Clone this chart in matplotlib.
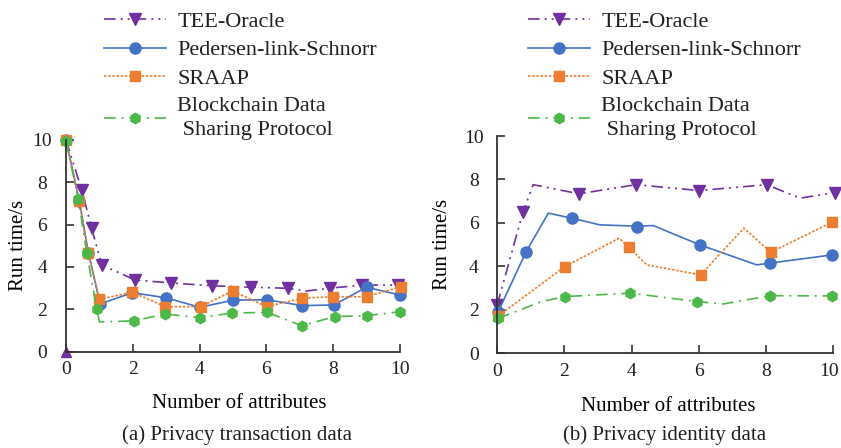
import matplotlib
matplotlib.use("Agg")
from matplotlib import pyplot as plt
from matplotlib.lines import Line2D
from matplotlib import transforms

plt.rcParams['font.family'] = ['Liberation Serif', 'DejaVu Serif']
plt.rcParams['text.color'] = '#231f20'

labels = ['TEE-Oracle', 'Pedersen-link-Schnorr', 'SRAAP',
          'Blockchain Data\n Sharing Protocol']

# (a) privacy transaction data: line vertices and marker points
a_tee_x = [0, 0.47, 0.77, 1.07, 2.07, 3.14, 4.36, 5.54, 6.64, 7.2, 7.9, 8.85, 9.95]
a_tee_y = [10, 7.64, 5.82, 4.09, 3.38, 3.24, 3.11, 3.04, 2.99, 2.86, 2.99, 3.14, 3.14]
a_tee_mx = [0.47, 0.77, 1.07, 2.07, 3.14, 4.36, 5.54, 6.64, 7.9, 8.85, 9.95]
a_tee_my = [7.64, 5.82, 4.09, 3.38, 3.24, 3.11, 3.04, 2.99, 2.99, 3.14, 3.14]

a_ped_x = [0, 0.4, 0.67, 1.02, 1.99, 2.99, 4.01, 5.01, 6.01, 7.07, 8.02, 9.0, 10.0]
a_ped_y = [10, 7.1, 4.65, 2.25, 2.78, 2.54, 2.09, 2.43, 2.45, 2.17, 2.2, 3.04, 2.67]

a_sra_x = [0, 0.4, 0.67, 1.0, 1.99, 2.97, 4.03, 4.99, 6.01, 7.07, 8.0, 9.0, 10.02]
a_sra_y = [10, 7.1, 4.65, 2.47, 2.8, 2.12, 2.12, 2.86, 2.12, 2.52, 2.59, 2.59, 3.06]

a_bds_x = [0, 0.37, 0.62, 0.92, 1.0, 2.04, 2.96, 4.01, 4.97, 6.03, 7.06, 8.05, 9.0, 10.0]
a_bds_y = [9.95, 7.2, 4.67, 2.0, 1.4, 1.45, 1.77, 1.6, 1.82, 1.85, 1.22, 1.65, 1.69, 1.88]
a_bds_mx = [0, 0.37, 0.62, 0.92, 2.04, 2.96, 4.01, 4.97, 6.03, 7.06, 8.05, 9.0, 10.0]
a_bds_my = [9.95, 7.2, 4.67, 2.0, 1.45, 1.77, 1.6, 1.82, 1.85, 1.22, 1.65, 1.69, 1.88]

# (b) privacy identity data
b_tee_x = [0, 0.76, 1.07, 2.43, 4.13, 6.01, 8.02, 9.01, 10.05]
b_tee_y = [2.23, 6.48, 7.76, 7.34, 7.76, 7.49, 7.76, 7.14, 7.4]
b_tee_mx = [0, 0.76, 2.43, 4.13, 6.01, 8.02, 10.05]
b_tee_my = [2.23, 6.48, 7.34, 7.76, 7.49, 7.76, 7.4]

b_ped_x = [0.03, 0.85, 1.52, 2.21, 3.06, 4.17, 4.64, 6.03, 7.72, 8.12, 9.97]
b_ped_y = [1.92, 4.65, 6.45, 6.22, 5.91, 5.85, 5.88, 4.99, 4.07, 4.15, 4.53]
b_ped_mx = [0.03, 0.85, 2.21, 4.17, 6.03, 8.12, 9.97]
b_ped_my = [1.92, 4.65, 6.22, 5.83, 4.99, 4.15, 4.53]

b_sra_x = [0.03, 2.01, 3.63, 3.92, 4.45, 6.05, 7.34, 8.14, 9.97]
b_sra_y = [1.72, 3.99, 5.3, 4.88, 4.07, 3.61, 5.76, 4.65, 6.04]
b_sra_mx = [0.03, 2.01, 3.92, 6.05, 8.14, 9.97]
b_sra_my = [1.72, 3.99, 4.88, 3.61, 4.65, 6.04]

b_bds_x = [0.03, 1.32, 2.01, 3.96, 5.95, 6.73, 8.12, 9.97]
b_bds_y = [1.61, 2.38, 2.61, 2.77, 2.38, 2.27, 2.65, 2.64]
b_bds_mx = [0.03, 2.01, 3.96, 5.95, 8.12, 9.97]
b_bds_my = [1.61, 2.61, 2.77, 2.38, 2.65, 2.64]

xticks = [0, 2, 4, 6, 8, 10]
yticks = [0, 2, 4, 6, 8, 10]
captions = ['(a) Privacy transaction data', '(b) Privacy identity data']

purple = '#7030a0'
blue = '#4472c4'
orange = '#ed7d31'
green = '#4cb848'

styles = [
    dict(color=purple, ls=(0, (7, 3, 1.2, 3, 1.2, 3)), marker='v', ms=8),
    dict(color=blue, ls='-', marker='o', ms=8),
    dict(color=orange, ls=(0, (1.5, 1)), marker='s', ms=7.5),
    dict(color=green, ls=(0, (7, 3.5, 1.2, 3.5)), marker='h', ms=7.5),
]


def draw(ax, lx, ly, mx, my, st):
    ax.plot(lx, ly, color=st['color'], ls=st['ls'], lw=1.2, clip_on=False)
    ax.plot(mx, my, ls='none', marker=st['marker'], ms=st['ms'],
            color=st['color'], mec=st['color'], clip_on=False)


def setup(ax):
    ax.set_xlim(0, 10)
    ax.set_ylim(0, 10)
    ax.set_xticks(xticks)
    ax.set_yticks(yticks)
    for s in ['top', 'right']:
        ax.spines[s].set_visible(False)
    for s in ['left', 'bottom']:
        ax.spines[s].set_linewidth(1.3)
        ax.spines[s].set_color('#333333')
    ax.tick_params(direction='in', length=6, width=1.2, color='#333333',
                   labelsize=14, labelcolor='#231f20')
    ax.tick_params(axis='x', pad=7)
    ax.tick_params(axis='y', pad=17)
    for lab in ax.get_yticklabels():
        lab.set_ha('center')
    ax.set_xlabel('Number of attributes', fontsize=15)
    ax.set_ylabel('Run time/s', fontsize=15)


fig = plt.figure(figsize=(8.41, 4.48), dpi=100)
ax1 = fig.add_axes([0.0785, 0.2154, 0.3971, 0.4721])
ax2 = fig.add_axes([0.5913, 0.2114, 0.3995, 0.4850])

draw(ax1, a_tee_x, a_tee_y, a_tee_mx, a_tee_my, styles[0])
ax1.plot([0], [0], ls='none', marker='^', ms=7, color=purple, clip_on=False)
draw(ax1, a_ped_x, a_ped_y, a_ped_x, a_ped_y, styles[1])
draw(ax1, a_sra_x, a_sra_y, a_sra_x, a_sra_y, styles[2])
draw(ax1, a_bds_x, a_bds_y, a_bds_mx, a_bds_my, styles[3])

draw(ax2, b_tee_x, b_tee_y, b_tee_mx, b_tee_my, styles[0])
draw(ax2, b_ped_x, b_ped_y, b_ped_mx, b_ped_my, styles[1])
draw(ax2, b_sra_x, b_sra_y, b_sra_mx, b_sra_my, styles[2])
draw(ax2, b_bds_x, b_bds_y, b_bds_mx, b_bds_my, styles[3])

for ax in (ax1, ax2):
    setup(ax)
ax1.yaxis.set_label_coords(-0.113, 0.5)
ax2.yaxis.set_label_coords(-0.135, 0.5)
ax1.xaxis.set_label_coords(0.52, -0.2)
ax2.xaxis.set_label_coords(0.51, -0.2)

# keep the last tick label of (b) inside the figure
last = ax2.get_xticklabels()[-1]
last.set_transform(last.get_transform() +
                   transforms.ScaledTranslation(-4 / 100, 0, fig.dpi_scale_trans))

handles = [Line2D([], [], color=st['color'], ls=st['ls'], lw=1.2,
                  marker=st['marker'], ms=st['ms']) for st in styles]

for ax, x0 in ((ax1, 104), (ax2, 528)):
    leg = ax.legend(handles, labels, loc='upper left', frameon=False,
                    fontsize=16, bbox_to_anchor=(x0 / 841, 1 - 11 / 448),
                    bbox_transform=fig.transFigure, borderpad=0,
                    borderaxespad=0, handlelength=2.8, handletextpad=0.5,
                    labelspacing=0.37, numpoints=1)
    for t in leg.get_texts():
        t.set_linespacing(1.3)

fig.text(237 / 841, 1 - 435 / 448, captions[0], ha='center', va='center',
         fontsize=15)
fig.text(665 / 841, 1 - 435 / 448, captions[1], ha='center', va='center',
         fontsize=15)

fig.savefig('out.png', dpi=100)
